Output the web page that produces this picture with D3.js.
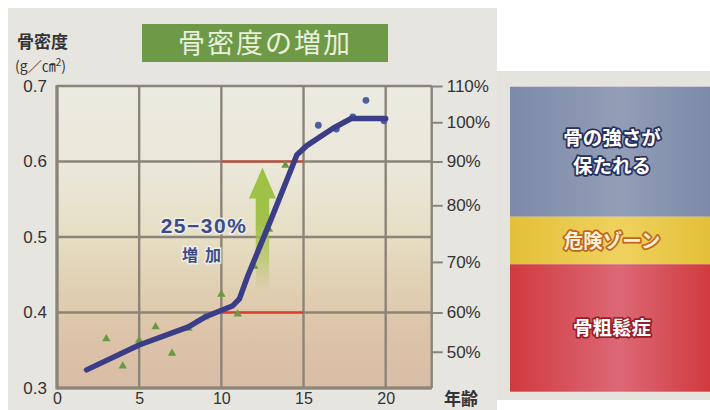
<!DOCTYPE html>
<html><head><meta charset="utf-8">
<script src="https://cdn.jsdelivr.net/npm/d3@7"></script>
<style>
html,body{margin:0;padding:0;background:#fff;}
svg{display:block;}
</style></head>
<body>
<svg id="c" width="710" height="410"></svg>
<script>
// ---- data ----
const xTicks = [0, 5, 10, 15, 20];
const yTicks = [0.3, 0.4, 0.5, 0.6, 0.7];
const pctLabels = ["110%", "100%", "90%", "80%", "70%", "60%", "50%"];
const pctPos = [0.7, 0.652, 0.6, 0.542, 0.467, 0.4, 0.348];
const lineYears = [1.8, 5, 8, 9, 10.7, 11.1, 11.6, 13, 14.6, 15.2, 16.8, 17.9, 20];
const lineVals = [0.324, 0.357, 0.381, 0.394, 0.409, 0.418, 0.448, 0.522, 0.609, 0.621, 0.644, 0.657, 0.657];
const triYears = [3, 4, 5, 6, 7, 8, 9, 10, 11, 12, 12.9, 13.9];
const triVals = [0.365, 0.329, 0.363, 0.381, 0.346, 0.379, 0.394, 0.424, 0.398, 0.461, 0.51, 0.595];
const dotYears = [15.9, 17, 18, 18.8, 19.9];
const dotVals = [0.648, 0.643, 0.659, 0.681, 0.654];
const refLines = [0.4, 0.6];
const refRange = [10, 15];
const arrowYear = 12.5, arrowFrom = 0.27, arrowTo = 0.592;
const zones = [
  {label: ["骨の強さが", "保たれる"], edge: "#7c8aa9", mid: "#939eb6", fill: "#ffffff", stroke: "#26305e"},
  {label: ["危険ゾーン"], edge: "#e3c038", mid: "#efd25e", fill: "#fbf0d8", stroke: "#c0681c"},
  {label: ["骨粗鬆症"], edge: "#d13a3e", mid: "#dc6876", fill: "#ffffff", stroke: "#9a1c24"}
];
const zoneHeights = [130, 47.6, 127.4];

const svg = d3.select("#c");
const defs = svg.append("defs");

// backgrounds
svg.append("rect").attr("x", 8).attr("y", 8).attr("width", 489).attr("height", 402).attr("fill", "#e7e5e0");
svg.append("rect").attr("x", 497).attr("y", 71).attr("width", 213).attr("height", 329).attr("fill", "#e4e3de");

const x = d3.scaleLinear().domain([0, 22.8]).range([57, 431.7]);
const y = d3.scaleLinear().domain([0.3, 0.7]).range([388, 86]);

// plot gradient
const pg = defs.append("linearGradient").attr("id", "pg").attr("x1", 0).attr("y1", 0).attr("x2", 0).attr("y2", 1);
[[0, "#ecebe1"], [0.3, "#eae7d8"], [0.5, "#e6dec3"], [0.7, "#e0cdb0"], [0.85, "#dcc2a8"], [1, "#d9bda6"]]
  .forEach(s => pg.append("stop").attr("offset", s[0]).attr("stop-color", s[1]));
svg.append("rect").attr("x", x(0)).attr("y", y(0.7)).attr("width", x(22.8) - x(0)).attr("height", y(0.3) - y(0.7)).attr("fill", "url(#pg)");

// grid
const gridColor = "#8b8478";
svg.append("g").selectAll("line").data(yTicks).join("line")
  .attr("x1", x(0)).attr("x2", x(22.8)).attr("y1", d => y(d)).attr("y2", d => y(d))
  .attr("stroke", gridColor).attr("stroke-width", 2.4);
svg.append("g").selectAll("line").data(xTicks.concat([22.8])).join("line")
  .attr("y1", y(0.7)).attr("y2", y(0.3)).attr("x1", d => x(d)).attr("x2", d => x(d))
  .attr("stroke", gridColor).attr("stroke-width", 2.4);
svg.append("line").attr("x1", x(0)).attr("x2", x(0)).attr("y1", y(0.7) - 1).attr("y2", y(0.3) + 1.5).attr("stroke", gridColor).attr("stroke-width", 3.2);
svg.append("line").attr("x1", x(0)).attr("x2", x(22.8)).attr("y1", y(0.3)).attr("y2", y(0.3)).attr("stroke", gridColor).attr("stroke-width", 3.2);

// red reference lines
svg.append("g").selectAll("line").data(refLines).join("line")
  .attr("x1", x(refRange[0])).attr("x2", x(refRange[1])).attr("y1", d => y(d)).attr("y2", d => y(d))
  .attr("stroke", "#d8412f").attr("stroke-width", 2);

// arrow
const ag = defs.append("linearGradient").attr("id", "ag").attr("x1", 0).attr("y1", 0).attr("x2", 0).attr("y2", 1);
[[0, "#9cc242", 1], [0.45, "#9dbf45", 0.95], [0.75, "#a6c050", 0.55], [1, "#b0c060", 0]]
  .forEach(s => ag.append("stop").attr("offset", s[0]).attr("stop-color", s[1]).attr("stop-opacity", s[2]));
const ax = x(arrowYear), at = y(arrowTo), ab = Math.min(y(arrowFrom), 292);
const hb = at + 31;
svg.append("path").attr("fill", "url(#ag)")
  .attr("d", `M${ax},${at} L${ax + 13.5},${hb} L${ax + 6.7},${hb} L${ax + 6.7},${ab} L${ax - 6.7},${ab} L${ax - 6.7},${hb} L${ax - 13.5},${hb} Z`);

// triangles
svg.append("g").selectAll("path").data(triYears.map((d, i) => [d, triVals[i]])).join("path")
  .attr("transform", d => `translate(${x(d[0])},${y(d[1])})`)
  .attr("d", d3.symbol(d3.symbolTriangle, 30))
  .attr("fill", "#679a42");

// dots
svg.append("g").selectAll("circle").data(dotYears.map((d, i) => [d, dotVals[i]])).join("circle")
  .attr("cx", d => x(d[0])).attr("cy", d => y(d[1])).attr("r", 3.4).attr("fill", "#4d5ea4");

// main line
const line = d3.line().x(d => x(d[0])).y(d => y(d[1])).curve(d3.curveLinear);
svg.append("path").datum(lineYears.map((d, i) => [d, lineVals[i]]))
  .attr("d", line).attr("fill", "none").attr("stroke", "#3b3d86").attr("stroke-width", 5.5)
  .attr("stroke-linecap", "round").attr("stroke-linejoin", "round");

// axes
const font = "'Liberation Sans', Arial, sans-serif";
const styleAxis = (g, size) => {
  g.select(".domain").remove();
  g.selectAll("text").attr("font-family", font).attr("font-size", size).attr("fill", "#333");
};
svg.append("g").attr("transform", `translate(${x(0)},0)`)
  .call(d3.axisLeft(y).tickValues(yTicks).tickFormat(d3.format(".1f")).tickSize(0).tickPadding(10))
  .call(g => styleAxis(g, 17));
svg.append("g").attr("transform", `translate(0,${y(0.3)})`)
  .call(d3.axisBottom(x).tickValues(xTicks).tickSize(0).tickPadding(5))
  .call(g => styleAxis(g, 16));
const ra = svg.append("g").attr("transform", `translate(${x(22.8)},0)`)
  .call(d3.axisRight(y).tickValues(pctPos).tickFormat((d, i) => pctLabels[i]).tickSize(11).tickPadding(4))
  .call(g => styleAxis(g, 17));
ra.selectAll(".tick line").attr("stroke", gridColor).attr("stroke-width", 2);

// axis titles
svg.append("text").attr("x", 17).attr("y", 48).text("骨密度")
  .attr("font-family", "'Noto Sans CJK JP'").attr("font-weight", "bold").attr("font-size", 17).attr("fill", "#333");
const ut = svg.append("text").attr("x", 15).attr("y", 71)
  .attr("font-family", "'Noto Sans CJK JP'").attr("font-size", 14).attr("fill", "#333");
ut.append("tspan").text("(g／㎝");
ut.append("tspan").attr("dy", -5).attr("font-size", 10).text("2");
ut.append("tspan").attr("dy", 5).text(")");
svg.append("text").attr("x", 444).attr("y", 405).text("年齢")
  .attr("font-family", "'Noto Sans CJK JP'").attr("font-weight", "bold").attr("font-size", 17).attr("fill", "#333");

// title
svg.append("rect").attr("x", 142).attr("y", 24).attr("width", 246).attr("height", 38).attr("fill", "#6e9a48");
svg.append("text").attr("x", 265).attr("y", 53).attr("text-anchor", "middle").text("骨密度の増加")
  .attr("font-family", "'Noto Sans CJK JP'").attr("font-size", 27).attr("letter-spacing", 2).attr("fill", "#eaf0de");

// annotation
svg.append("text").attr("x", 204).attr("y", 233).attr("text-anchor", "middle").text("25−30%")
  .attr("font-family", "'Liberation Sans', Arial").attr("font-weight", "bold").attr("font-size", 21).attr("letter-spacing", 1.5)
  .attr("fill", "#3e4b88").attr("stroke", "#eeeee6").attr("stroke-width", 3).attr("paint-order", "stroke");
svg.append("text").attr("x", 205).attr("y", 261).attr("text-anchor", "middle").text("増加")
  .attr("font-family", "'Noto Sans CJK JP'").attr("font-weight", "bold").attr("font-size", 16).attr("letter-spacing", 7)
  .attr("fill", "#3e4b88").attr("stroke", "#eeeee6").attr("stroke-width", 3).attr("paint-order", "stroke");

// zone panel
const px = 510, pw = 200;
let py = 86.7;
zones.forEach((z, i) => {
  const gid = "zg" + i;
  const g = defs.append("linearGradient").attr("id", gid).attr("x1", 0).attr("x2", 1).attr("y1", 0).attr("y2", 0);
  [[0, z.edge], [0.55, z.mid], [1, z.edge]].forEach(s => g.append("stop").attr("offset", s[0]).attr("stop-color", s[1]));
  const h = zoneHeights[i];
  svg.append("rect").attr("x", px).attr("y", py).attr("width", pw).attr("height", h).attr("fill", `url(#${gid})`);
  const n = z.label.length;
  const cy = py + h / 2;
  const t = svg.append("text").attr("y", cy - (n - 1) / 2 * 28 + 7)
    .attr("text-anchor", "middle")
    .attr("font-family", "'Noto Sans CJK JP'").attr("font-weight", "bold").attr("font-size", 19.5)
    .attr("fill", z.fill).attr("stroke", z.stroke).attr("stroke-width", 3.5)
    .attr("stroke-linejoin", "round").attr("paint-order", "stroke");
  z.label.forEach((s, j) => {
    t.append("tspan").attr("x", 612).attr("dy", j === 0 ? 0 : 28).text(s);
  });
  py += h;
});
</script>
</body></html>
